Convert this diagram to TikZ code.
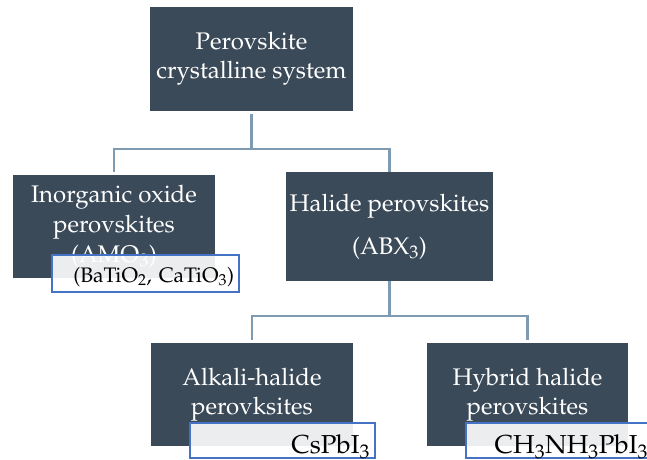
\documentclass[tikz,border=0pt]{standalone}
\usepackage[T1]{fontenc}
\usepackage{mathpazo}
\usepackage{tikz}
\definecolor{slate}{HTML}{3B4A59}
\definecolor{linkblue}{HTML}{7F9BB2}
\definecolor{tagblue}{HTML}{4472C4}
\tikzset{
  catbox/.style={fill=slate, text=white, align=center, inner sep=0pt,
    font=\fontsize{24}{29}\selectfont},
  tagbox/.style={draw=tagblue, line width=2pt, fill=white, fill opacity=0.9,
    text opacity=1, inner xsep=5pt, inner ysep=0pt, align=right},
  link/.style={draw=linkblue, line width=2.5pt}
}

\begin{document}
\begin{tikzpicture}[x=1pt,y=-1pt]
	\useasboundingbox (0,0) rectangle (647,459);

	\node[catbox, minimum width=203, minimum height=104] (system) at (251.5,59) {Perovskite\\crystalline system};
	\node[catbox, minimum width=202, minimum height=103, font=\fontsize{24}{30}\selectfont] (oxide) at (114,226.5) {Inorganic oxide\\perovskites\\(AMO$_3$)};
	\node[catbox, minimum width=207, minimum height=109] (halide) at (389.5,226.5) {Halide perovskites\\[14pt](ABX$_3$)};
	\node[catbox, minimum width=202, minimum height=103] (alkali) at (252,394.5) {Alkali-halide\\perovksites};
	\node[catbox, minimum width=201, minimum height=103] (hybrid) at (527.5,394.5) {Hybrid halide\\perovskites};

	\node[tagbox, minimum width=187, minimum height=37, text width=177, text height=20, text depth=3,
		font=\fontsize{21}{24}\selectfont] (oxidetag) at (145.5,273.5) {(BaTiO$_2$, CaTiO$_3$)};
	\node[tagbox, minimum width=185, minimum height=35, text width=175, text height=27, text depth=1,
		font=\fontsize{26}{29}\selectfont] (alkalitag) at (282.5,440.5) {CsPbI$_3$};
	\node[tagbox, minimum width=185, minimum height=35, text width=177, text height=27, text depth=1,
		font=\fontsize{26}{29}\selectfont] (hybridtag) at (559.5,440.5) {CH$_3$NH$_3$PbI$_3$};

	% links
	\coordinate (split1) at (251.5,149);
	\coordinate (split2) at (389.5,316);
	\draw[link] ([yshift=-3]system.south) -- (split1) -| ([yshift=3]oxide.north);
	\draw[link] (split1) -| (halide.north);
	\draw[link] (halide.south) -- (split2) -| ([yshift=3]alkali.north);
	\draw[link] (split2) -| ([yshift=3]hybrid.north);
\end{tikzpicture}
\end{document}
